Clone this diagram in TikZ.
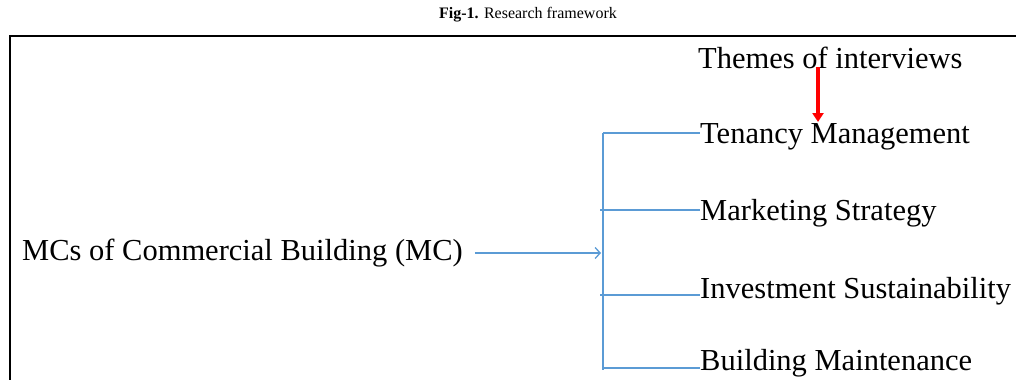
\documentclass[tikz,border=0pt]{standalone}
\usepackage{fontspec}
\setmainfont{Liberation Serif}
\usetikzlibrary{positioning,arrows.meta}

\begin{document}
\begin{tikzpicture}[x=1pt,y=-1pt,
  itemnode/.style={anchor=base west, inner sep=0pt, font=\fontsize{30.5}{35}\selectfont},
  bluelink/.style={draw={rgb,255:red,91;green,155;blue,213}, line width=1.3pt},
  redarrow/.style={draw=red, line width=3.5pt, -{Triangle[length=9pt,width=11pt]}}]
  \useasboundingbox (0,0) rectangle (1016,380);
  %Title and frame
  \node[anchor=base, inner sep=0pt, font=\fontsize{16}{18}\selectfont](title) at (528,18){\textbf{Fig-1.} Research framework};
  \draw[line width=2pt] (1016,36) -- (10,36) -- (10,380);

  %Nodes
  \node[itemnode](mc) at (22,260){MCs of Commercial Building (MC)};
  \node[itemnode](themes) at (698,68){Themes of interviews};
  \node[itemnode](tenancy) at (700,143){Tenancy Management};
  \node[itemnode](marketing) at (700,220){Marketing Strategy};
  \node[itemnode](investment) at (700,298){Investment Sustainability};
  \node[itemnode](maintenance) at (700,370){Building Maintenance};
  \coordinate (trunktop) at (603,133);
  \coordinate (trunkbottom) at (603,370);

  %Lines
  \draw[bluelink] (trunktop) -- (trunkbottom);
  \draw[bluelink] (trunktop) -- (tenancy.west |- trunktop);
  \draw[bluelink] ([xshift=-3pt]trunktop |- 0,210) -- (marketing.west |- 0,210);
  \draw[bluelink] ([xshift=-3pt]trunktop |- 0,295) -- (investment.west |- 0,295);
  \draw[bluelink] (trunkbottom |- 0,368) -- (maintenance.west |- 0,368);
  \draw[bluelink, -{Straight Barb[length=5pt,width=11pt]}] ([xshift=12pt,yshift=7pt]mc.base east) -- ([xshift=-2pt,yshift=7pt]trunktop |- mc.base);
  \draw[redarrow] ([xshift=120pt,yshift=1pt]themes.base west) -- ([xshift=120pt,yshift=21pt]themes.base west |- tenancy.base);
\end{tikzpicture}
\end{document}
